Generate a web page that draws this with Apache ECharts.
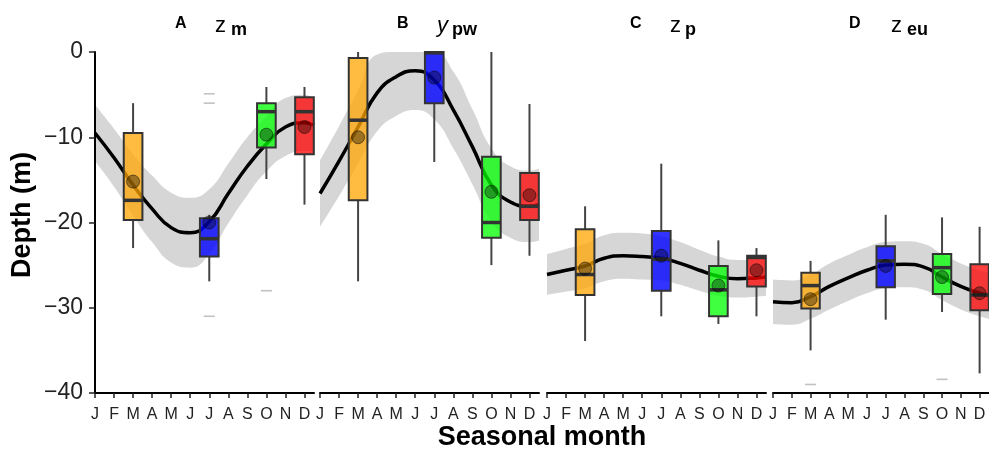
<!DOCTYPE html>
<html>
<head>
<meta charset="utf-8">
<script src="https://cdn.jsdelivr.net/npm/echarts@6/dist/echarts.min.js"></script>
<style>
  html, body { margin: 0; padding: 0; background: #ffffff; }
  #chart { width: 989px; height: 450px; }
</style>
</head>
<body>
<div id="chart"></div>
<script>
// Month letters on each panel's x axis (0 = January)
const monthLetters = ['J', 'F', 'M', 'A', 'M', 'J', 'J', 'A', 'S', 'O', 'N', 'D'];
const yTicks = [0, -10, -20, -30, -40];

// Positions (in months) where the seasonal fit and its confidence band are sampled
const fitMonths = [0, 1, 2, 3, 4, 5, 6, 7, 8, 9, 10, 11, 11.5];
// Months that carry a box (Mar, Jul, Oct, Dec)
const boxMonths = [2, 6, 9, 11];

// Panel A: z_m
const fitA = [-9.5, -12.4, -15.6, -18.4, -20.6, -21.2, -19.9, -16.6, -13.4, -10.8, -8.8, -8.3, -8.6];
const hiA  = [-6.2, -9.0, -12.0, -14.5, -16.5, -17.1, -16.1, -13.1, -10.0, -7.6, -5.4, -5.0, -5.6];
const loA  = [-12.8, -15.8, -19.2, -22.3, -24.7, -25.3, -23.7, -20.1, -16.8, -14.0, -12.2, -11.6, -11.6];
// each box: [lower whisker, q1, median, q3, upper whisker]
const boxA = [[-23.0, -19.7, -17.4, -9.5, -6.0], [-26.9, -24.0, -21.9, -19.5, -19.1], [-14.9, -11.2, -7.0, -6.0, -4.1], [-17.9, -12.0, -7.0, -5.3, -4.1]];
const meanA = [-15.2, -20.0, -9.7, -8.8];
const outA = [[6, -4.9], [6, -6.0], [6, -31.0], [9, -28.0]];

// Panel B: y_pw
const fitB = [-16.6, -12.8, -8.8, -4.8, -2.9, -2.2, -3.3, -6.8, -11.1, -15.6, -17.6, -18.1, -17.9];
const hiB  = [-12.7, -8.7, -4.5, -0.3, 0, 0, 0, -2.3, -6.7, -11.3, -13.4, -13.9, -13.7];
const loB  = [-20.5, -16.9, -13.1, -9.3, -7.5, -6.8, -7.9, -11.3, -15.5, -19.9, -21.8, -22.3, -22.1];
const boxB = [[-26.9, -17.4, -8.0, -0.7, 0], [-12.9, -6.0, -0.1, 0, 0], [-25.0, -21.8, -20.0, -12.3, 0], [-23.9, -19.7, -18.1, -14.2, -6.1]];
const meanB = [-10.0, -3.0, -16.4, -16.8];
const outB = [];

// Panel C: z_p
const fitC = [-26.1, -25.6, -25.1, -24.2, -23.9, -24.0, -24.2, -24.8, -25.6, -26.3, -26.6, -26.5, -26.4];
const hiC  = [-23.7, -23.1, -22.5, -21.5, -21.2, -21.3, -21.6, -22.3, -23.2, -24.0, -24.4, -24.3, -24.2];
const loC  = [-28.5, -28.1, -27.7, -26.9, -26.6, -26.7, -26.8, -27.3, -28.0, -28.6, -28.8, -28.7, -28.6];
const boxC = [[-33.9, -28.5, -26.1, -20.8, -18.1], [-31.0, -28.0, -24.3, -21.0, -13.1], [-31.9, -31.0, -27.9, -25.1, -22.1], [-31.0, -27.5, -24.1, -23.9, -23.0]];
const meanC = [-25.4, -23.9, -27.4, -25.6];
const outC = [];

// Panel D: z_eu
const fitD = [-29.3, -29.4, -28.7, -27.5, -26.5, -25.6, -25.0, -24.9, -25.2, -26.4, -27.5, -28.3, -28.6];
const hiD  = [-26.7, -26.8, -26.1, -24.8, -23.8, -22.9, -22.3, -22.2, -22.5, -23.7, -24.8, -25.6, -25.9];
const loD  = [-31.9, -32.0, -31.3, -30.2, -29.2, -28.3, -27.7, -27.6, -27.9, -29.1, -30.2, -31.0, -31.3];
const boxD = [[-35.0, -30.1, -27.4, -25.9, -24.5], [-31.4, -27.6, -24.5, -22.8, -19.1], [-30.5, -28.4, -25.3, -23.7, -19.4], [-37.7, -30.3, -28.5, -24.9, -20.5]];
const meanD = [-29.0, -25.1, -26.4, -28.3];
const outD = [[2, -39.0], [9, -38.4]];

const boxColors = ['rgba(255,165,0,0.75)', 'rgba(0,0,255,0.8)', 'rgba(0,255,0,0.75)', 'rgba(255,0,0,0.75)'];
const FONT = '"Liberation Sans", Arial, Helvetica, sans-serif';
const BAND = '#d6d6d6';

const panels = [
  { fit: fitA, hi: hiA, lo: loA, box: boxA, mean: meanA, out: outA, left: 95 },
  { fit: fitB, hi: hiB, lo: loB, box: boxB, mean: meanB, out: outB, left: 320 },
  { fit: fitC, hi: hiC, lo: loC, box: boxC, mean: meanC, out: outC, left: 547 },
  { fit: fitD, hi: hiD, lo: loD, box: boxD, mean: meanD, out: outD, left: 773 }
];

const PANEL_W = 219;   // whole pixels keep the band edges crisp
const X_MAX = 11.5;
const tickMonths = monthLetters.map((_, i) => i);

const grids = [], xAxes = [], yAxes = [], series = [];

panels.forEach((p, i) => {
  grids.push({ left: p.left, top: 52, width: PANEL_W, height: 341, containLabel: false });

  xAxes.push({
    type: 'value', gridIndex: i, min: 0, max: X_MAX, z: 10,
    axisLine: { show: true, onZero: false, lineStyle: { color: '#000', width: 2 } },
    axisTick: { show: true, customValues: tickMonths, length: 5, lineStyle: { color: '#222', width: 1.5 } },
    axisLabel: {
      customValues: tickMonths, margin: 14, color: '#222', fontSize: 16, fontFamily: FONT,
      formatter: v => monthLetters[Math.round(v)] || ''
    },
    splitLine: { show: false }
  });

  yAxes.push({
    type: 'value', gridIndex: i, min: -40, max: 0, interval: 10, z: 10,
    show: i === 0,
    axisLine: { show: true, lineStyle: { color: '#000', width: 2 } },
    axisTick: { show: true, customValues: yTicks, length: 6, lineStyle: { color: '#222', width: 1.5 } },
    axisLabel: {
      customValues: yTicks, margin: 12, color: '#222', fontSize: 23, fontFamily: FONT,
      formatter: v => (v < 0 ? '\u2212' + Math.abs(v) : String(v))
    },
    splitLine: { show: false }
  });

  // Confidence band: grey fill under the upper edge, then white fill under the lower edge
  series.push({
    type: 'line', xAxisIndex: i, yAxisIndex: i,
    smooth: true, symbol: 'none', silent: true, z: 1,
    lineStyle: { opacity: 0 },
    areaStyle: { color: BAND, opacity: 1, origin: 'start' },
    data: fitMonths.map((m, k) => [m, p.hi[k]])
  });
  series.push({
    type: 'line', xAxisIndex: i, yAxisIndex: i,
    smooth: true, symbol: 'none', silent: true, z: 1,
    lineStyle: { opacity: 0 },
    areaStyle: { color: '#ffffff', opacity: 1, origin: 'start' },
    data: fitMonths.map((m, k) => [m, p.lo[k]])
  });

  // Seasonal fit
  series.push({
    type: 'line', xAxisIndex: i, yAxisIndex: i, smooth: true, symbol: 'none', z: 2,
    lineStyle: { color: '#000', width: 3.5 },
    data: fitMonths.map((m, k) => [m, p.fit[k]])
  });

  // Boxes with whiskers
  series.push({
    type: 'custom', xAxisIndex: i, yAxisIndex: i, z: 3, clip: false,
    data: boxMonths.map((m, k) => [m].concat(p.box[k]).concat([k])),
    renderItem: (params, api) => {
      const m = api.value(0);
      const lw = api.value(1), q1 = api.value(2), med = api.value(3), q3 = api.value(4), uw = api.value(5);
      const ci = api.value(6);
      const half = api.size([1, 0])[0] * 0.49;
      const cTop = api.coord([m, q3]), cBot = api.coord([m, q1]);
      const cMed = api.coord([m, med]), cLw = api.coord([m, lw]), cUw = api.coord([m, uw]);
      const x = cTop[0];
      const wStyle = { stroke: '#444', lineWidth: 2 };
      return {
        type: 'group',
        children: [
          { type: 'line', shape: { x1: x, y1: cUw[1], x2: x, y2: cTop[1] }, style: wStyle },
          { type: 'line', shape: { x1: x, y1: cBot[1], x2: x, y2: cLw[1] }, style: wStyle },
          { type: 'rect', shape: { x: x - half, y: cTop[1], width: half * 2, height: Math.max(cBot[1] - cTop[1], 0.5) },
            style: { fill: boxColors[ci], stroke: '#333', lineWidth: 2 } },
          { type: 'line', shape: { x1: x - half, y1: cMed[1], x2: x + half, y2: cMed[1] },
            style: { stroke: '#333', lineWidth: 3.5 } }
        ]
      };
    }
  });

  // Outlying observations
  if (p.out.length) {
    series.push({
      type: 'scatter', xAxisIndex: i, yAxisIndex: i, z: 3, silent: true,
      symbol: 'rect', symbolSize: [11, 1.6],
      itemStyle: { color: '#b3b3b3' },
      data: p.out
    });
  }

  // Means
  series.push({
    type: 'scatter', xAxisIndex: i, yAxisIndex: i, z: 4, silent: true,
    symbol: 'circle', symbolSize: 13,
    itemStyle: { color: 'rgba(0,0,0,0.45)', borderColor: 'rgba(0,0,0,0.6)', borderWidth: 1 },
    data: boxMonths.map((m, k) => [m, p.mean[k]])
  });
});

// Panel headings: letter, symbol and subscript
const headings = [
  { letter: 'A', lx: 181, sym: 'z', sx: 215, italic: false, sub: 'm', bx: 231 },
  { letter: 'B', lx: 403, sym: 'y', sx: 437, italic: true, sub: 'pw', bx: 452 },
  { letter: 'C', lx: 636, sym: 'z', sx: 670, italic: false, sub: 'p', bx: 685 },
  { letter: 'D', lx: 855, sym: 'z', sx: 891, italic: false, sub: 'eu', bx: 907 }
];

const graphics = [];
headings.forEach(h => {
  graphics.push({ type: 'text', left: h.lx - 6, top: 16,
    style: { text: h.letter, font: 'bold 16px ' + FONT, fill: '#000' } });
  graphics.push({ type: 'text', left: h.sx, top: 15,
    style: { text: h.sym, font: (h.italic ? 'italic ' : '') + '22px ' + FONT, fill: '#000' } });
  graphics.push({ type: 'text', left: h.bx, top: 21,
    style: { text: h.sub, font: 'bold 18px ' + FONT, fill: '#000' } });
});

graphics.push({
  type: 'text', x: 23, y: 215, rotation: Math.PI / 2,
  style: { text: 'Depth (m)', font: 'bold 27px ' + FONT, fill: '#000', align: 'center', verticalAlign: 'middle' }
});
graphics.push({
  type: 'text', x: 542, y: 438,
  style: { text: 'Seasonal month', font: 'bold 27px ' + FONT, fill: '#000', align: 'center', verticalAlign: 'middle' }
});

const chart = echarts.init(document.getElementById('chart'), null, { renderer: 'canvas' });
chart.setOption({
  animation: false,
  backgroundColor: '#ffffff',
  grid: grids,
  xAxis: xAxes,
  yAxis: yAxes,
  series: series,
  graphic: graphics
});
</script>
</body>
</html>
